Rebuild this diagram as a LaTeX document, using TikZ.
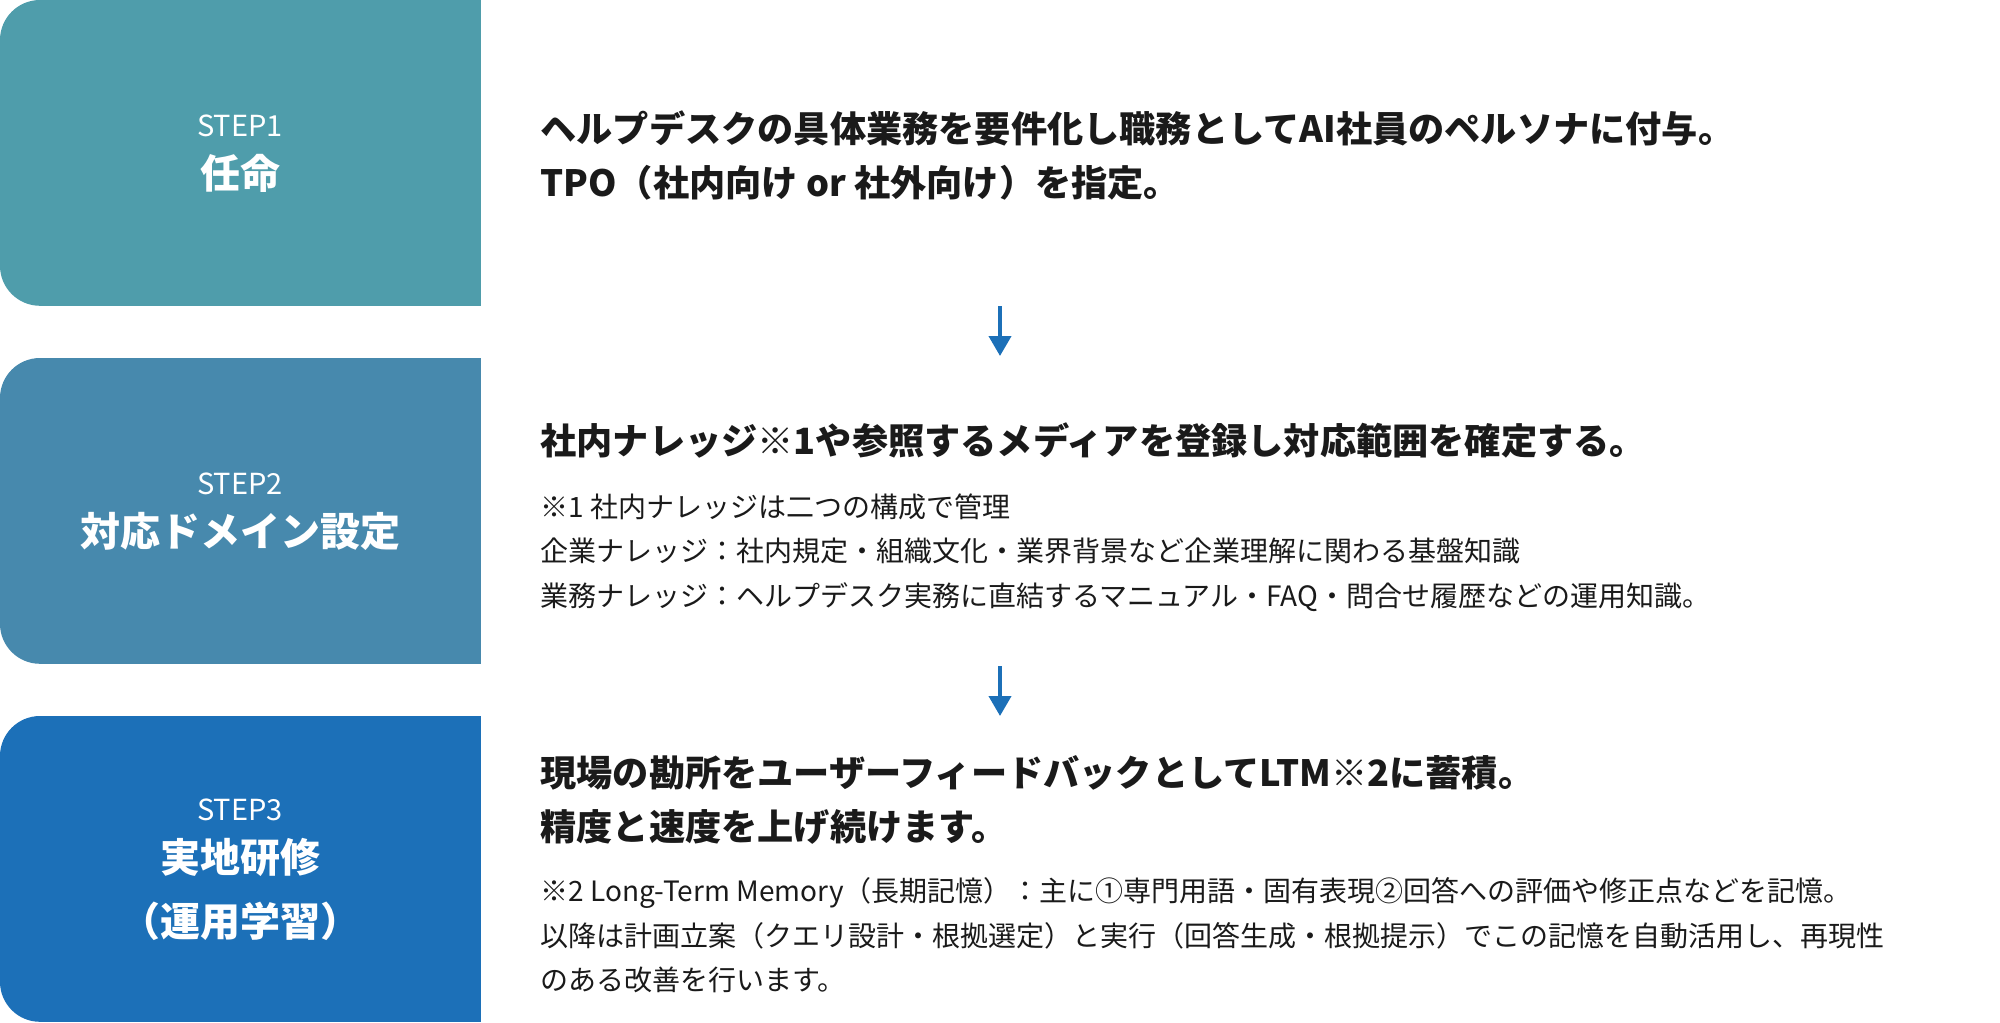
\documentclass[tikz,border=0pt]{standalone}
\usepackage{fontspec}
\setmainfont{Noto Sans CJK JP}
\usepackage{xcolor}
\usepackage{tikz}
\usetikzlibrary{arrows.meta,positioning}
\definecolor{stepone}{HTML}{4F9DAB}
\definecolor{steptwo}{HTML}{4789AD}
\definecolor{stepthree}{HTML}{1C70B8}
\definecolor{ink}{HTML}{1A1A1A}
\newcommand\stepfill[2]{%
  \fill[#2, rounded corners=20pt] (#1.north west) rectangle (#1.south east);
  \fill[#2] (#1.north) rectangle (#1.south east);}

\tikzset{
  stepbox/.style={minimum width=240pt, minimum height=152.5pt, inner sep=0, anchor=north west},
  steplabel/.style={text=white, font=\fontsize{14.5}{18}\selectfont, inner sep=0},
  steptitle/.style={text=white, font=\bfseries\fontsize{20}{32.25}\selectfont, align=center, inner sep=0},
  headtext/.style={text=ink, font=\bfseries\fontsize{18.1}{27}\selectfont, align=left, anchor=west, inner sep=0},
  notetext/.style={text=ink, font=\fontsize{14}{22.25}\selectfont, align=left, anchor=west, inner sep=0},
  flow/.style={stepthree, line width=2pt, -{Triangle[width=11pt,length=10pt]}}
}

\begin{document}
\begin{tikzpicture}[x=0.5pt, y=-0.5pt]
  \useasboundingbox (0,0) rectangle (2000,1022);

  % step boxes
  \node[stepbox] (box1) at (0,0) {};
  \node[stepbox] (box2) at (0,358) {};
  \node[stepbox] (box3) at (0,716) {};
  \stepfill{box1}{stepone}
  \stepfill{box2}{steptwo}
  \stepfill{box3}{stepthree}

  \node[steplabel] (lab1) at (240,125.5) {STEP1};
  \node[steptitle] (title1) at (240,173) {任命};
  \node[steplabel] (lab2) at (240,483.5) {STEP2};
  \node[steptitle] (title2) at (240,531) {対応ドメイン設定};
  \node[steplabel] (lab3) at (240,809.5) {STEP3};
  \node[steptitle] (title3) at (240,889.5) {実地研修\\（運用学習）};

  % descriptions
  \node[headtext] (head1) at (540,155) {ヘルプデスクの具体業務を要件化し職務としてAI社員のペルソナに付与。\\
TPO（社内向け or 社外向け）を指定。};
  \node[headtext] (head2) at (540,440) {社内ナレッジ※1や参照するメディアを登録し対応範囲を確定する。};
  \node[notetext] (note2) at (540,552.5) {※1 社内ナレッジは二つの構成で管理\\
企業ナレッジ：社内規定・組織文化・業界背景など企業理解に関わる基盤知識\\
業務ナレッジ：ヘルプデスク実務に直結するマニュアル・FAQ・問合せ履歴などの運用知識。};
  \node[headtext] (head3) at (540,799.5) {現場の勘所をユーザーフィードバックとしてLTM※2に蓄積。\\
精度と速度を上げ続けます。};
  \node[notetext] (note3) at (540,935.5) {※2 Long-Term Memory（長期記憶）：主に①専門用語・固有表現②回答への評価や修正点などを記憶。\\
以降は計画立案（クエリ設計・根拠選定）と実行（回答生成・根拠提示）でこの記憶を自動活用し、再現性\\
のある改善を行います。};

  % arrows between rows
  \coordinate (out1) at (1000,306);
  \coordinate (in2) at (1000,356);
  \coordinate (out2) at (1000,666);
  \coordinate (in3) at (1000,716);
  \draw[flow] (out1) -- (in2);
  \draw[flow] (out2) -- (in3);
\end{tikzpicture}
\end{document}
